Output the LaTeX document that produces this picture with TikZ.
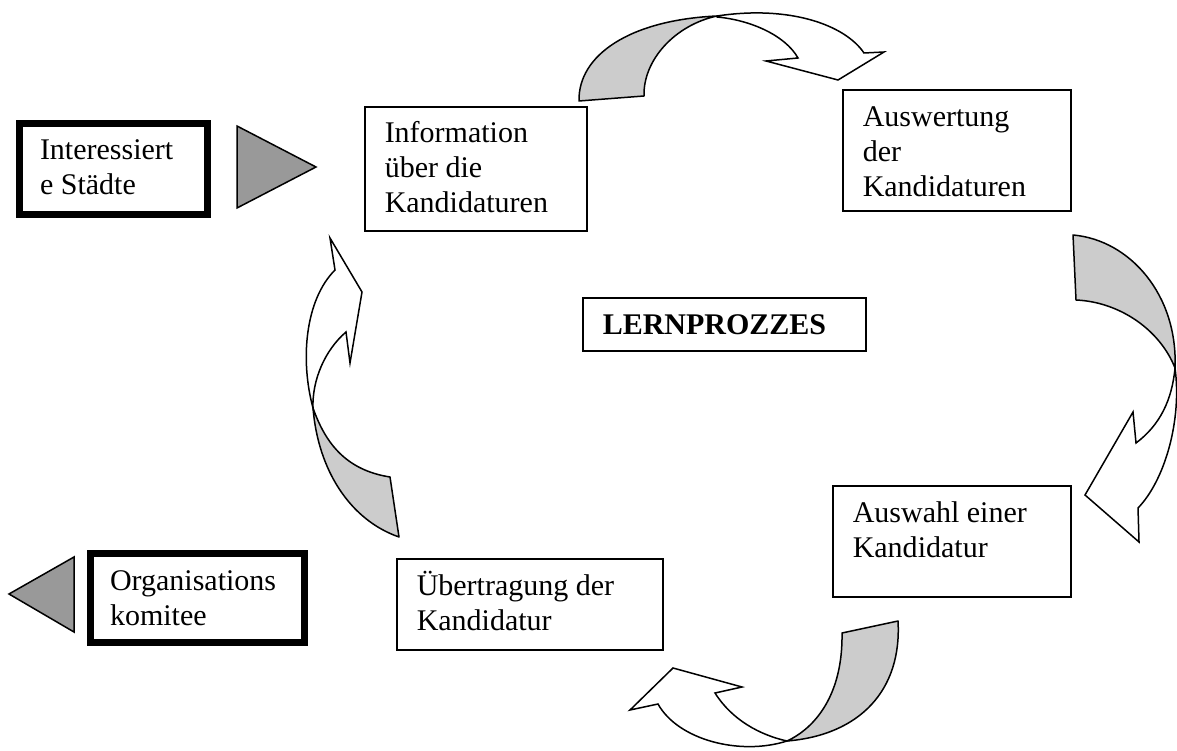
\documentclass[tikz,border=0pt]{standalone}
\usepackage{fontspec}
\setmainfont{Liberation Serif}
\usetikzlibrary{fit}

\tikzset{
  box/.style={draw, line width=0.6pt, inner sep=0pt},
  thickbox/.style={draw, line width=2.8pt, inner sep=0pt},
  txt/.style={anchor=north west, align=left, inner sep=0pt, font=\fontsize{12}{14}\selectfont},
  wedge/.style={draw, line width=0.6pt, fill=black!40},
  ribbon/.style={draw, line width=0.6pt, fill=black!20, line join=round},
  arrowbody/.style={draw, line width=0.6pt, fill=white}
}

\begin{document}
\begin{tikzpicture}[x=0.4pt, y=-0.4pt]
  \useasboundingbox (0,0) rectangle (1177,751);

  % boxes
  \node (staedte) [thickbox, fit={(19.5,123.5) (207.5,214.5)}] {};
  \node (info) [box, fit={(365,107) (587,231)}] {};
  \node (auswertung) [box, fit={(843,90) (1071,211)}] {};
  \node (lern) [box, fit={(583,298) (866,351)}] {};
  \node (auswahl) [box, fit={(833,486) (1071,597)}] {};
  \node (uebertragung) [box, fit={(397,559) (663,650)}] {};
  \node (komitee) [thickbox, fit={(90.5,553.5) (304.5,642.5)}] {};

  % texts
  \node (staedtetext) [txt] at ([shift={(23.5,15)}]staedte.north west) {\strut Interessiert\\e Städte};
  \node (infotext) [txt] at ([shift={(20,11.5)}]info.north west) {\strut Information\\über die\\Kandidaturen};
  \node (auswertungtext) [txt] at ([shift={(20,12.5)}]auswertung.north west) {\strut Auswertung\\der\\Kandidaturen};
  \node (lerntext) [txt] at ([shift={(20,12.5)}]lern.north west) {\strut\textbf{LERNPROZZES}};
  \node (auswahltext) [txt] at ([shift={(20,12.5)}]auswahl.north west) {\strut Auswahl einer\\Kandidatur};
  \node (uebertragungtext) [txt] at ([shift={(20,12.5)}]uebertragung.north west) {\strut Übertragung der\\Kandidatur};
  \node (komiteetext) [txt] at ([shift={(22.5,15)}]komitee.north west) {\strut Organisations\\komitee};

  % triangles
  \draw[wedge] (237,126) -- (237,208) -- (316,167) -- cycle;
  \draw[wedge] (74,557) -- (74,632) -- (9,594) -- cycle;

  % top arrow
  \draw[ribbon] (579,101) .. controls (578,55) and (630,20) .. (717,16)
    .. controls (675,25) and (643,60) .. (644,96) -- cycle;
  \draw[arrowbody] (717,16) .. controls (790,5) and (845,25) .. (864,53)
    -- (884,52) -- (838,80) -- (766,61) -- (798,58)
    .. controls (785,35) and (750,20) .. (717,17) -- cycle;

  % right arrow
  \draw[ribbon] (1073,235) .. controls (1130,240) and (1178,295) .. (1175,368)
    .. controls (1160,330) and (1120,302) .. (1076,300) -- cycle;
  \draw[arrowbody] (1175,368) .. controls (1182,420) and (1165,480) .. (1138,508)
    -- (1139,542) -- (1085,495) -- (1133,412) -- (1136,443)
    .. controls (1160,425) and (1172,400) .. (1175,368) -- cycle;

  % bottom arrow
  \draw[ribbon] (842,633) -- (898,621) .. controls (902,690) and (860,735) .. (787,741)
    .. controls (815,728) and (843,695) .. (842,633) -- cycle;
  \draw[arrowbody] (787,741) .. controls (740,756) and (678,740) .. (658,704)
    -- (630,710) -- (673,668) -- (742,687) -- (715,693)
    .. controls (732,720) and (760,735) .. (787,741) -- cycle;

  % left arrow
  \draw[ribbon] (390,477) -- (399,537) .. controls (350,520) and (318,470) .. (313,408)
    .. controls (325,442) and (345,470) .. (390,477) -- cycle;
  \draw[arrowbody] (313,408) .. controls (300,360) and (305,300) .. (335,270)
    -- (330,238) -- (362,292) -- (350,363) -- (346,332)
    .. controls (325,350) and (312,380) .. (313,408) -- cycle;
\end{tikzpicture}
\end{document}
